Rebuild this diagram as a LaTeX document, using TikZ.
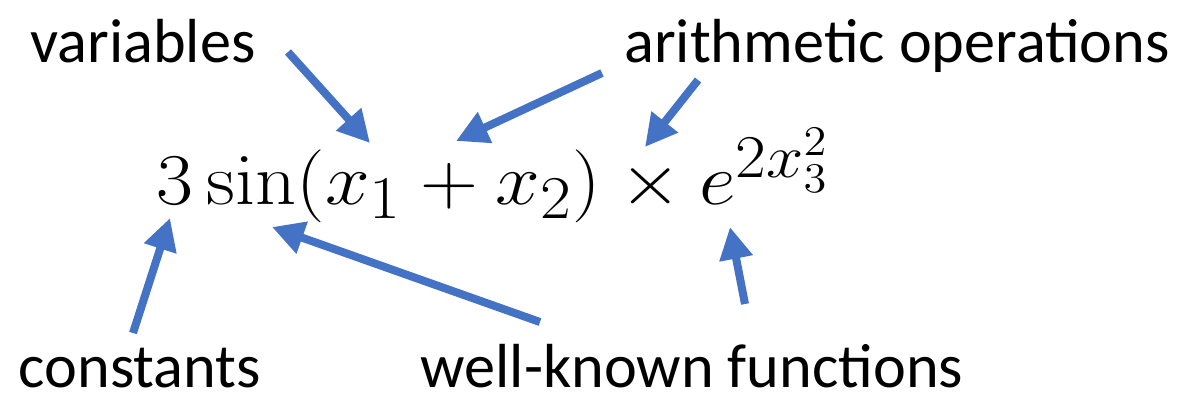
\documentclass[tikz,border=0pt]{standalone}
\usepackage[no-math]{fontspec}
\setmainfont{Carlito}
\usetikzlibrary{arrows.meta}
\DeclareMathSizes{22.4}{22.4}{16.5}{12.5}
\definecolor{arrowblue}{HTML}{4472C4}
\tikzset{
  lbl/.style={anchor=base, inner sep=0pt, font=\fontsize{17.7}{20}\selectfont},
  pointer/.style={draw=arrowblue, line width=0.08cm, -{Triangle[length=0.32cm,width=0.32cm]}}
}
\begin{document}
\begin{tikzpicture}[x=0.01cm,y=-0.01cm]
\useasboundingbox (0,0) rectangle (1188,399);
\node[lbl] (var) at (143,62) {variables};
\node[lbl] (arith) at (897,62) {arithmetic operations};
\node[lbl] (const) at (140,387) {constants};
\node[lbl] (func) at (692,387) {well-known functions};
\node[anchor=base west, inner sep=0pt, font=\fontsize{22.4}{26}\selectfont] (eq) at (156,204)
  {\scalebox{1.1}[1]{$3\sin(x_1+x_2)\times e^{2x_3^2}$}};
\coordinate (varS) at (288,52);   \coordinate (varT) at (370,143);
\coordinate (ar1S) at (602,73);   \coordinate (ar1T) at (456,141);
\coordinate (ar2S) at (698,80);   \coordinate (ar2T) at (645,147);
\coordinate (conS) at (133,333);  \coordinate (conT) at (170,218);
\coordinate (fn1S) at (540,322);  \coordinate (fn1T) at (272,227);
\coordinate (fn2S) at (745,304);  \coordinate (fn2T) at (730,227);
\draw[pointer] (varS) -- (varT);
\draw[pointer] (ar1S) -- (ar1T);
\draw[pointer] (ar2S) -- (ar2T);
\draw[pointer] (conS) -- (conT);
\draw[pointer] (fn1S) -- (fn1T);
\draw[pointer] (fn2S) -- (fn2T);
\end{tikzpicture}
\end{document}
